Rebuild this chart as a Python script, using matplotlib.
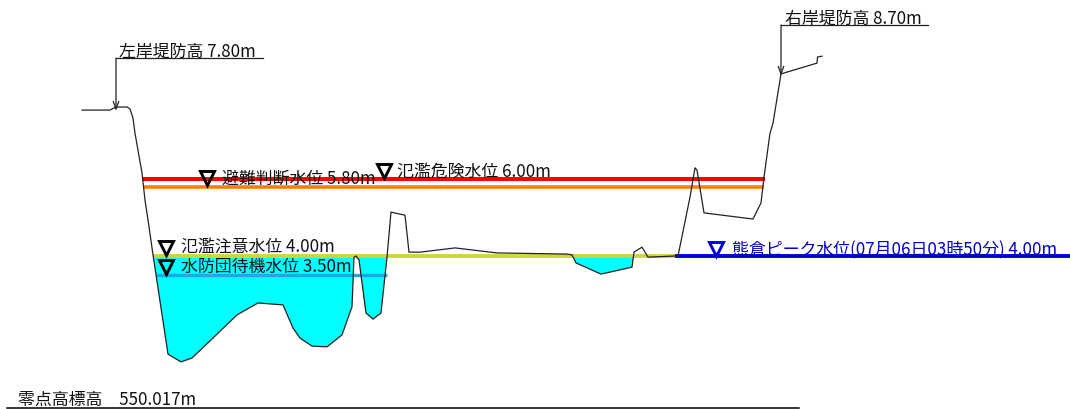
import matplotlib
matplotlib.use("Agg")
import matplotlib.pyplot as plt
import numpy as np

plt.rcParams['font.family'] = ['Noto Sans CJK JP', 'DejaVu Sans']

# cross-section: horizontal position, elevation above the zero point (m)
section_x = [82, 110, 112, 116, 127, 130, 133, 135, 142, 145, 148, 153, 168, 181, 192, 213, 237, 258,
             283, 293, 300, 312, 327, 342, 352, 354, 356, 359, 366, 373, 381, 387, 391, 405, 409, 420,
             455, 497, 567, 572, 576, 601, 632, 634, 642, 648, 675, 678, 690, 695, 697, 704, 753, 761,
             764, 770, 773, 781, 817, 817.5, 822]
section_z = [7.79, 7.79, 7.82, 7.87, 7.87, 7.82, 7.58, 7.19, 6.16, 5.45, 4.94, 4.03, 1.45, 1.25, 1.35, 1.87, 2.47, 2.78,
             2.73, 2.13, 1.87, 1.66, 1.64, 1.95, 2.68, 3.97, 4.00, 3.90, 2.52, 2.36, 2.52, 3.97, 5.14, 5.06, 4.10, 4.10,
             4.21, 4.08, 4.05, 4.03, 3.82, 3.53, 3.71, 4.10, 4.23, 3.97, 4.00, 4.00, 5.53, 6.29, 6.23, 5.12, 4.96, 5.38,
             6.05, 7.19, 7.45, 8.73, 9.01, 9.17, 9.19]

danger_level = 6.00
evac_level = 5.80
caution_level = 4.00
standby_level = 3.50
peak_level = 4.00
left_levee = 7.80
right_levee = 8.70

labels = {
    'left': '左岸堤防高 7.80m',
    'right': '右岸堤防高 8.70m',
    'evac': '避難判断水位 5.80m',
    'danger': '氾濫危険水位 6.00m',
    'caution': '氾濫注意水位 4.00m',
    'standby': '水防団待機水位 3.50m',
    'peak': '熊倉ピーク水位(07月06日03時50分) 4.00m',
    'zero': '零点高標高　550.017m',
}

PX = 38.5  # pixels per metre
def Y(pixel_y):
    return (410 - pixel_y) / PX

fig = plt.figure(figsize=(10.7, 4.1), dpi=100)
ax = fig.add_axes([0, 0, 1, 1])
ax.set_xlim(0, 1070)
ax.set_ylim(1 / PX, 411 / PX)
ax.axis('off')

x = np.array(section_x, float)
z = np.array(section_z, float)
xf = np.linspace(153, 675, 2000)
zf = np.interp(xf, x, z)
ax.fill_between(xf, zf, caution_level, where=zf < caution_level, color='#00ffff', lw=0, zorder=1)

ax.plot(section_x, section_z, color='#222222', lw=0.9, zorder=4)

ax.plot([142, 765], [danger_level] * 2, color='#ff0000', lw=2.9, solid_capstyle='butt', zorder=3)
ax.plot([143, 764], [evac_level] * 2, color='#ff8000', lw=2.6, solid_capstyle='butt', zorder=3)
ax.plot([153, 676], [caution_level] * 2, color='#cfd832', lw=2.8, solid_capstyle='butt', zorder=3)
ax.plot([156, 387], [standby_level] * 2, color='#1fa8e8', lw=2.4, solid_capstyle='butt', zorder=3)
ax.plot([675, 1070], [peak_level] * 2, color='#0000d8', lw=2.8, solid_capstyle='butt', zorder=3)

# leaders
ax.plot([116, 263], [Y(58)] * 2, color='#222222', lw=0.9)
ax.plot([781, 928], [Y(25)] * 2, color='#222222', lw=0.9)
ax.annotate('', xy=(116, left_levee - 0.03), xytext=(116, Y(58)),
            arrowprops=dict(arrowstyle='->,head_length=0.55,head_width=0.2', color='#222222', lw=0.9, shrinkA=0, shrinkB=0))
ax.annotate('', xy=(781, right_levee - 0.02), xytext=(781, Y(25)),
            arrowprops=dict(arrowstyle='->,head_length=0.55,head_width=0.2', color='#222222', lw=0.9, shrinkA=0, shrinkB=0))
ax.plot([7, 799], [Y(408)] * 2, color='black', lw=1.1)

# level symbols
for mx, my, col in [(207, 177.5, 'black'), (384, 170.5, 'black'), (166, 247.5, 'black'), (166, 267, 'black'), (716, 248.5, '#0000d8')]:
    ax.plot([mx], [Y(my)], marker='v', ms=10, mfc='none', mec=col, mew=2.1, ls='none', zorder=6)

def t(px, py, key, col='#111111'):
    ax.text(px, Y(py), labels[key], fontsize=12.2, color=col, va='baseline', ha='left', zorder=7)

t(119, 56, 'left')
t(785, 23, 'right')
t(222, 182.3, 'evac')
t(397, 175.3, 'danger')
t(181, 250.3, 'caution')
t(181, 271, 'standby')
t(732, 254, 'peak', '#0000c8')
t(18, 404, 'zero')

fig.savefig('out.png', dpi=100, facecolor='white')
